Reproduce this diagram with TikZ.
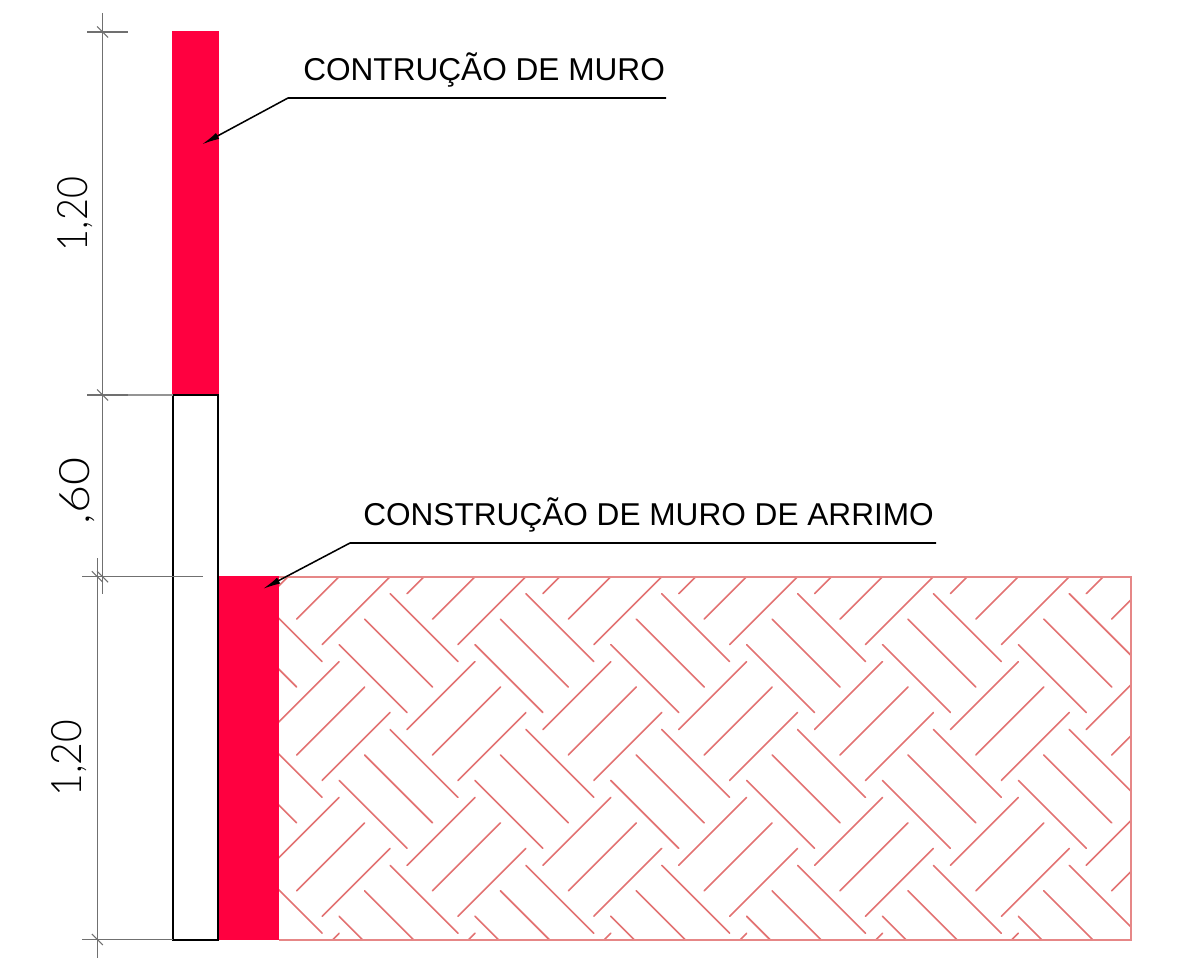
\documentclass[tikz,border=0pt]{standalone}
\usepackage{fontspec}
\setmainfont{Liberation Sans}
\newfontfamily\dimfont{Lato Light}
\usepackage{tikz}
\usetikzlibrary{arrows.meta}
\definecolor{muroRed}{HTML}{FF0040}
\definecolor{hatchRed}{HTML}{E27272}
\definecolor{dimGray}{HTML}{707070}
\begin{document}
\begin{tikzpicture}
	[
	x=0.75pt, y=-0.75pt,
	hatchline/.style = {draw=hatchRed, line width=1.2pt, line cap=round},
	dimline/.style = {draw=dimGray, line width=0.8pt},
	extline/.style = {draw=dimGray!75, line width=0.8pt},
	wall/.style = {draw=black, line width=1.6pt},
	leader/.style = {draw=black, line width=1.15pt, -{Latex[length=13.5pt,width=5pt]}},
	callout/.style = {font=\fontsize{23.7}{28}\selectfont, anchor=base west, inner sep=0pt},
	dimtext/.style = {font=\dimfont\fontsize{31.5}{38}\selectfont, rotate=90, anchor=center, inner sep=0pt}
	]
	\useasboundingbox (0,0) rectangle (1177,966);
	% hatch
	\begin{scope}
		\clip (279,577) rectangle (1131,940);
		\begin{scope}[shift={(296.67,576.67)}, x=6.3675pt, y=-6.3675pt]
			\foreach \col in {-1,...,6} {
				\foreach \row in {-1,...,3} {
					\begin{scope}[shift={(16*\col,16*\row)}]
						\foreach \sx/\sy in {-3/2, 0/5, 3/8} {
							\draw[hatchline] (\sx,\sy) -- ++(8,-8);
						}
						\foreach \sx/\sy in {5/8, 8/5, 11/2} {
							\draw[hatchline] (\sx,\sy) -- ++(8,8);
						}
					\end{scope}
				}
			}
		\end{scope}
	\end{scope}
	\draw[draw=hatchRed!85, line width=1.3pt] (279,577) -- (1131,577) -- (1131,940) -- (279,940);
	% walls
	\fill[muroRed] (172,31) rectangle (219,395);
	\fill[muroRed] (218,576) rectangle (279,940);
	\draw[wall] (173,395) rectangle (218,940);
	% dimensions
	\draw[dimline] (102.6,13) -- (102.6,594);
	\draw[dimline] (97.3,558) -- (97.3,958);
	\draw[dimline] (87,32) -- (128,32);
	\draw[dimline] (87,395) -- (128,395);
	\draw[extline] (128,395) -- (173,395);
	\draw[dimline] (82,576.7) -- (203,576.7);
	\draw[dimline] (82,939.5) -- (173,939.5);
	\foreach \tx/\ty in {102.6/32, 102.6/395, 102.6/576.7, 97.3/576.7, 97.3/939.5} {
		\draw[dimline] (\tx-5.5,\ty-5.5) -- (\tx+5.5,\ty+5.5);
	}
	\node[dimtext, xscale=0.9] (dimA) at (75.5,214) {1,20};
	\node[dimtext, xscale=1.15] (dimB) at (77.5,491) {,60};
	\node[dimtext, xscale=0.93] (dimC) at (69,758) {1,20};
	% labels
	\node[callout] (labelMuro) at (303,81) {CONTRUÇÃO DE MURO};
	\node[callout] (labelArrimo) at (363,525) {CONSTRUÇÃO DE MURO DE ARRIMO};
	\coordinate (muroEnd) at (666,98);
	\coordinate (muroBend) at (288,98);
	\coordinate (muroTip) at (201.7,144.5);
	\coordinate (arrimoEnd) at (936,543);
	\coordinate (arrimoBend) at (350,543);
	\coordinate (arrimoTip) at (262.7,589);
	\draw[leader] (muroEnd) -- (muroBend) -- (muroTip);
	\draw[leader] (arrimoEnd) -- (arrimoBend) -- (arrimoTip);
\end{tikzpicture}
\end{document}
